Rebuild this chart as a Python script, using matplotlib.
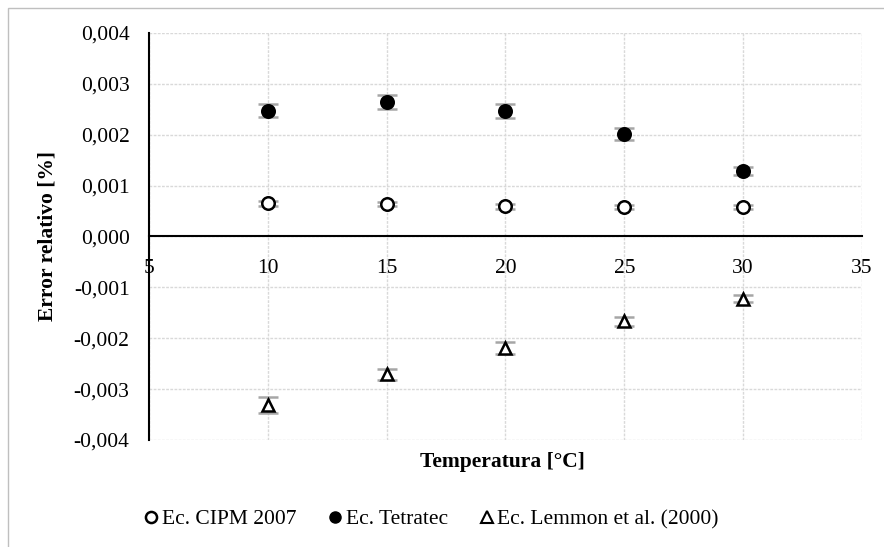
import numpy as np
import matplotlib.pyplot as plt
from matplotlib.lines import Line2D
from matplotlib.patches import Rectangle
from matplotlib.ticker import FuncFormatter

# Temperaturas de ensayo [°C]
temperatura = [10, 15, 20, 25, 30]

# Error relativo [%] de cada ecuación y su incertidumbre
cipm = [0.00065, 0.00063, 0.00059, 0.00058, 0.00058]
cipm_err = [0.00005, 0.00004, 0.00004, 0.00004, 0.00004]
tetratec = [0.00247, 0.00265, 0.00247, 0.00202, 0.00129]
tetratec_err = [0.00013, 0.00014, 0.00014, 0.00012, 0.00008]
lemmon = [-0.00331, -0.00271, -0.00219, -0.00167, -0.00122]
lemmon_err = [0.00015, 0.00011, 0.00011, 0.00009, 0.00007]

plt.rcParams['font.family'] = ['Liberation Serif', 'DejaVu Serif']
FS = 15.5

fig = plt.figure(figsize=(8.84, 5.47), dpi=100)
ax = fig.add_axes([0.1686, 0.1956, 0.8064, 0.7441])

# Marco exterior (solo se ven los bordes izquierdo y superior)
fig.patches.append(Rectangle((0.009, -0.1), 1.1, 1.085, transform=fig.transFigure,
                             fill=False, edgecolor='#bfbfbf', linewidth=1))

err_kw = dict(ecolor='#a6a6a6', elinewidth=2.5, capsize=7, capthick=2.5, linestyle='none',
              markersize=9, markeredgecolor='black', markeredgewidth=1.8, zorder=3)

ax.errorbar(temperatura, cipm, yerr=cipm_err, marker='o', markerfacecolor='white', **err_kw)
ax.errorbar(temperatura, tetratec, yerr=tetratec_err, marker='o', markerfacecolor='black', **err_kw)
ax.errorbar(temperatura, lemmon, yerr=lemmon_err, marker='^', markerfacecolor='white', **err_kw)

ax.set_xlim(5, 35)
ax.set_ylim(-0.004, 0.004)
ax.set_xticks(np.arange(5, 36, 5))
ax.set_yticks(np.arange(-0.004, 0.0041, 0.001))
ax.yaxis.set_major_formatter(FuncFormatter(lambda v, p: f'{v:.3f}'.replace('.', ',').replace('-0,000', '0,000')))

ax.grid(True, color='#d9d9d9', linestyle=(0, (2, 1)), linewidth=1)
ax.set_axisbelow(True)

for s in ['top', 'right']:
    ax.spines[s].set_visible(False)
ax.spines['bottom'].set_position(('data', 0))
ax.spines['bottom'].set_linewidth(1.5)
ax.spines['left'].set_linewidth(1.5)
ax.tick_params(axis='both', length=0, labelsize=FS)
ax.tick_params(axis='y', pad=14)
ax.tick_params(axis='x', pad=16)

ax.set_ylabel('Error relativo [%]', fontsize=FS, fontweight='bold')
ax.yaxis.set_label_coords(-0.129, 0.5)
fig.text(0.568, 0.155, 'Temperatura [°C]', fontsize=FS, fontweight='bold', ha='center', va='center')

# Leyenda solo con los marcadores
handles = [
    Line2D([], [], marker='o', linestyle='none', markersize=8, markerfacecolor='white',
           markeredgecolor='black', markeredgewidth=1.8),
    Line2D([], [], marker='o', linestyle='none', markersize=8, markerfacecolor='black',
           markeredgecolor='black'),
    Line2D([], [], marker='^', linestyle='none', markersize=8, markerfacecolor='white',
           markeredgecolor='black', markeredgewidth=1.5),
]
labels = ['Ec. CIPM 2007', 'Ec. Tetratec', 'Ec. Lemmon et al. (2000)']
fig.legend(handles, labels, loc='center', bbox_to_anchor=(0.486, 0.051), ncol=3, frameon=False,
           fontsize=FS, handletextpad=0.0, columnspacing=1.3, handlelength=1)

fig.savefig('out.png', dpi=100)
